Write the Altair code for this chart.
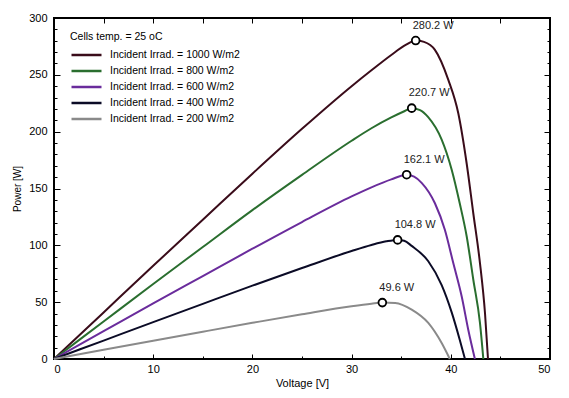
import altair as alt
import pandas as pd

FONT = "Liberation Sans"

series_names = [
    "Incident Irrad. = 1000 W/m2",
    "Incident Irrad. = 800 W/m2",
    "Incident Irrad. = 600 W/m2",
    "Incident Irrad. = 400 W/m2",
    "Incident Irrad. = 200 W/m2",
]
series_colors = ["#3a0c1a", "#2a6e2f", "#6a2c9c", "#0b0b26", "#8a8a8a"]

v_1000 = [0, 5, 10, 15, 20, 25, 30, 32, 34, 35.5, 36.46, 37.3, 38.4, 39.75, 40.76, 41.6, 42.27, 42.94, 43.45, 43.75]
p_1000 = [0, 41, 82, 122.5, 163, 202.5, 240, 254, 267.5, 276.5, 280.2, 279, 272, 245.6, 216, 172, 128, 84.4, 40, 0]

v_800 = [0, 5, 10, 15, 20, 25, 30, 32, 34, 35.2, 36.06, 36.9, 37.7, 39.08, 40.09, 40.9, 41.6, 42.27, 42.94, 43.28]
p_800 = [0, 33, 66, 98.5, 131, 162, 192, 203, 212.5, 217.5, 220.7, 219, 213, 193, 166.5, 137, 108, 69.7, 31.7, 0]

v_600 = [0, 5, 10, 15, 20, 25, 30, 32, 34, 35.55, 36.3, 37.06, 38.4, 39.4, 40.25, 41.1, 41.76, 42.43]
p_600 = [0, 24.5, 49, 73, 97, 120.5, 143, 151, 158, 162.1, 160.5, 155, 137, 113.7, 84.4, 55, 25.8, 0]

v_400 = [0, 5, 10, 15, 20, 25, 30, 32, 33.5, 34.64, 35.3, 36.06, 37.73, 39.08, 40.09, 40.9, 41.43]
p_400 = [0, 16.2, 32.4, 48.5, 64.5, 80, 95, 100.3, 103.5, 104.8, 104, 99.5, 86, 65, 41, 17, 0]

v_200 = [0, 5, 10, 15, 20, 25, 30, 32, 33.1, 34.4, 36.06, 37.73, 39.08, 39.9]
p_200 = [0, 8.1, 16.1, 24, 31.8, 39.4, 46.5, 48.7, 49.6, 49.3, 43.4, 31.7, 14, 0]

mpp_v = [36.46, 36.06, 35.55, 34.64, 33.1]
mpp_p = [280.2, 220.7, 162.1, 104.8, 49.6]
mpp_labels = ["280.2 W", "220.7 W", "162.1 W", "104.8 W", "49.6 W"]

x_label_values = [0, 10, 20, 30, 40, 50]
x_major_ticks = [10, 20, 30, 40]
x_minor_ticks = [5, 15, 25, 35, 45]
x_top_ticks = [5, 10, 15, 20, 25, 30, 35, 40, 45]
y_label_values = [0, 50, 100, 150, 200, 250, 300]
y_major_ticks = [50, 100, 150, 200, 250]
y_minor_ticks = [v for v in range(10, 300, 10) if v % 50 != 0]

rows = []
for name, vs, ps in zip(series_names, [v_1000, v_800, v_600, v_400, v_200],
                        [p_1000, p_800, p_600, p_400, p_200]):
    for v, p in zip(vs, ps):
        rows.append({"series": name, "V": v, "P": p})
curves = pd.DataFrame(rows)
mpp = pd.DataFrame({"series": series_names, "V": mpp_v, "P": mpp_p, "label": mpp_labels})

xscale = alt.Scale(domain=[0, 50], nice=False, zero=False)
yscale = alt.Scale(domain=[0, 300], nice=False)


def tick_axis(orient, values, size, offset):
    return alt.Axis(orient=orient, values=values, tickSize=size, offset=offset,
                    labels=False, domain=False, grid=False, title=None,
                    tickColor="black", tickWidth=1)


lines = alt.Chart(curves).mark_line(strokeWidth=2, interpolate="monotone").encode(
    x=alt.X("V:Q", scale=xscale, axis=alt.Axis(
        orient="bottom", values=x_label_values, ticks=False, domain=False, grid=False,
        labelPadding=4, labelFontSize=11, labelColor="black", labelFont=FONT,
        title="Voltage [V]", titleFont=FONT, titleFontSize=11, titleFontWeight="normal",
        titleColor="black", titlePadding=3)),
    y=alt.Y("P:Q", scale=yscale, axis=alt.Axis(
        orient="left", values=y_label_values, ticks=False, domain=False, grid=False,
        labelPadding=7, labelFontSize=11, labelColor="black", labelFont=FONT,
        title="Power [W]", titleFont=FONT, titleFontSize=10, titleFontWeight="normal",
        titleColor="black", titlePadding=6)),
    color=alt.Color("series:N", sort=series_names,
                    scale=alt.Scale(domain=series_names, range=series_colors),
                    legend=alt.Legend(
                        orient="none", legendX=16, legendY=14, padding=0,
                        title="Cells temp.  = 25 oC", titleFont=FONT, titleFontSize=10.5,
                        titleFontWeight="normal", titleColor="black", titlePadding=6,
                        labelFont=FONT, labelFontSize=10.5, labelColor="black",
                        symbolType="M-1,0H5", symbolSize=100, symbolStrokeWidth=2.5,
                        labelOffset=27, rowPadding=4)),
)

points = alt.Chart(mpp).mark_point(filled=True, fill="white", stroke="black",
                                   strokeWidth=1.8, size=60, opacity=1).encode(
    x=alt.X("V:Q", scale=xscale, axis=tick_axis("bottom", x_major_ticks, 5, -5)),
    y=alt.Y("P:Q", scale=yscale, axis=tick_axis("left", y_major_ticks, 6, -6)),
)

labels = alt.Chart(mpp).mark_text(align="left", baseline="middle", dx=-3, dy=-15,
                                  font=FONT, fontSize=11, color="#222222").encode(
    x=alt.X("V:Q", scale=xscale, axis=tick_axis("bottom", x_minor_ticks, 3, -3)),
    y=alt.Y("P:Q", scale=yscale, axis=tick_axis("left", y_minor_ticks, 3, -3)),
    text="label:N",
)

ghost1 = alt.Chart(mpp).mark_point(opacity=0).encode(
    x=alt.X("V:Q", scale=xscale, axis=tick_axis("top", x_top_ticks, 5, -5)),
    y=alt.Y("P:Q", scale=yscale, axis=tick_axis("right", y_major_ticks, 6, -6)),
)

ghost2 = alt.Chart(mpp).mark_point(opacity=0).encode(
    x=alt.X("V:Q", scale=xscale, axis=None),
    y=alt.Y("P:Q", scale=yscale, axis=tick_axis("right", y_minor_ticks, 3, -3)),
)

chart = alt.layer(lines, points, labels, ghost1, ghost2).resolve_axis(
    x="independent", y="independent"
).properties(
    width=496, height=341,
    padding={"left": 46, "top": 10, "right": 11, "bottom": 31},
    autosize=alt.AutoSizeParams(type="none"),
    background="white",
).configure_view(stroke="black", strokeWidth=2)

chart.save("out.html", embed_options={"renderer": "svg", "actions": False})
